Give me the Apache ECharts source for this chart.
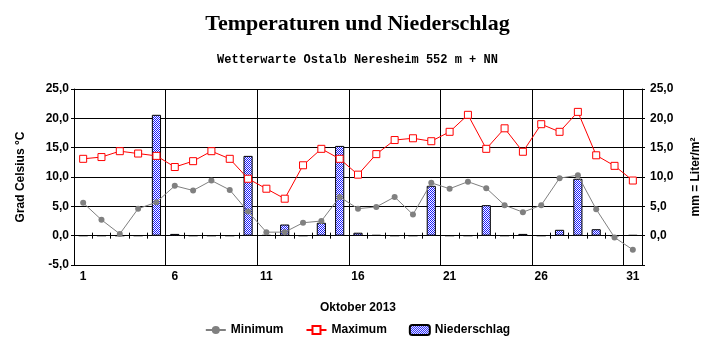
<!DOCTYPE html>
<html>
<head>
<meta charset="utf-8">
<script src="https://cdn.jsdelivr.net/npm/echarts@6/dist/echarts.min.js"></script>
<style>
  html, body { margin: 0; padding: 0; background: #fff; }
  #chart { width: 715px; height: 352px; }
</style>
</head>
<body>
<div id="chart"></div>
<script>
// Tage im Oktober 2013
const days = ['1','2','3','4','5','6','7','8','9','10','11','12','13','14','15','16',
    '17','18','19','20','21','22','23','24','25','26','27','28','29','30','31'];

// Tagesminimum (°C)
const minimum = [5.6, 2.7, 0.3, 4.6, 5.7, 8.5, 7.7, 9.4, 7.8, 4.1, 0.6, 0.6, 2.2, 2.5, 6.6, 4.6,
    4.9, 6.6, 3.6, 9.0, 8.0, 9.2, 8.1, 5.2, 4.0, 5.2, 9.8, 10.3, 4.5, -0.3, -2.4];

// Tagesmaximum (°C)
const maximum = [13.1, 13.4, 14.4, 14.0, 13.6, 11.7, 12.7, 14.4, 13.1, 9.7, 8.0, 6.3, 12.0, 14.8, 13.1, 10.4,
    13.9, 16.3, 16.6, 16.1, 17.7, 20.6, 14.8, 18.3, 14.3, 19.0, 17.7, 21.1, 13.7, 11.9, 9.4];

// Niederschlag (mm)
const niederschlag = [0, 0, 0, 0, 20.6, 0.3, 0, 0, 0, 13.6, 0.1, 1.9, 0, 2.2, 15.3, 0.5,
    0.1, 0, 0, 8.5, 0, 0, 5.2, 0, 0.3, 0, 1.0, 9.7, 1.1, 0, 0.1];

const fmt = v => v.toFixed(1).replace('.', ',');
const labelFont = { fontFamily: 'Liberation Sans', fontWeight: 'bold', fontSize: 12, color: '#000' };

// Punktraster fuer die Balken (blau/weiss)
const pat = document.createElement('canvas');
pat.width = 2; pat.height = 2;
const pctx = pat.getContext('2d');
pctx.fillStyle = '#ffffff';
pctx.fillRect(0, 0, 2, 2);
pctx.fillStyle = '#1a1aff';
pctx.fillRect(0, 0, 1, 1);
pctx.fillRect(1, 1, 1, 1);

const chart = echarts.init(document.getElementById('chart'));

chart.setOption({
    animation: false,
    backgroundColor: '#fff',
    title: [
        {
            text: 'Temperaturen und Niederschlag',
            left: 'center',
            top: 8,
            textStyle: { fontFamily: 'Liberation Serif', fontWeight: 'bold', fontSize: 22, color: '#000' }
        },
        {
            text: 'Wetterwarte Ostalb Neresheim 552 m + NN',
            left: 'center',
            top: 49,
            textStyle: { fontFamily: 'Liberation Mono', fontWeight: 'bold', fontSize: 12, color: '#000' }
        }
    ],
    legend: {
        data: ['Minimum', 'Maximum', 'Niederschlag'],
        left: 'center',
        top: 319,
        itemWidth: 20,
        itemHeight: 10,
        itemGap: 22,
        textStyle: labelFont
    },
    grid: { left: 74, right: 73, top: 89, bottom: 87 },
    xAxis: [
        {
            type: 'category',
            data: days,
            position: 'bottom',
            boundaryGap: true,
            axisLine: { onZero: false, lineStyle: { color: '#000', width: 1 } },
            axisTick: { show: false, interval: 4 },
            axisLabel: Object.assign({ interval: 4, margin: 6 }, labelFont),
            splitLine: { show: true, interval: 4, lineStyle: { color: '#000', width: 1 } },
            name: 'Oktober 2013',
            nameLocation: 'middle',
            nameGap: 37,
            nameTextStyle: labelFont
        },
        {
            type: 'category',
            data: days,
            position: 'bottom',
            boundaryGap: true,
            axisLine: { onZero: true, onZeroAxisIndex: 0, lineStyle: { color: '#000', width: 1 } },
            axisTick: { show: true, interval: 0, length: 3, lineStyle: { color: '#000' } },
            axisLabel: { show: false },
            splitLine: { show: false }
        },
        {
            type: 'category',
            data: days,
            position: 'bottom',
            boundaryGap: true,
            axisLine: { onZero: true, onZeroAxisIndex: 0, lineStyle: { color: '#000', width: 1 } },
            axisTick: { show: true, inside: true, interval: 0, length: 3, lineStyle: { color: '#000' } },
            axisLabel: { show: false },
            splitLine: { show: false }
        }
    ],
    yAxis: [
        {
            type: 'value',
            min: -5,
            max: 25,
            interval: 5,
            position: 'left',
            axisLine: { show: true, lineStyle: { color: '#000' } },
            axisTick: { show: true, length: 3, lineStyle: { color: '#000' } },
            axisLabel: Object.assign({ margin: 5, formatter: fmt }, labelFont),
            splitLine: { show: true, lineStyle: { color: '#000', width: 1 } },
            name: 'Grad Celsius °C',
            nameLocation: 'middle',
            nameRotate: 90,
            nameGap: 47,
            nameTextStyle: labelFont
        },
        {
            type: 'value',
            min: -5,
            max: 25,
            interval: 5,
            position: 'right',
            axisLine: { show: true, lineStyle: { color: '#000' } },
            axisTick: { show: true, length: 3, lineStyle: { color: '#000' } },
            axisLabel: Object.assign({ margin: 8, formatter: v => (v < 0 ? '' : fmt(v)) }, labelFont),
            splitLine: { show: false },
            name: 'mm = Liter/m²',
            nameLocation: 'middle',
            nameRotate: 90,
            nameGap: 48,
            nameTextStyle: labelFont
        }
    ],
    series: [
        {
            name: 'Niederschlag',
            type: 'bar',
            xAxisIndex: 0,
            yAxisIndex: 1,
            data: niederschlag,
            barWidth: '50%',
            itemStyle: {
                color: { image: pat, repeat: 'repeat' },
                borderColor: '#000',
                borderWidth: 1
            }
        },
        {
            name: 'Minimum',
            type: 'line',
            xAxisIndex: 0,
            yAxisIndex: 0,
            data: minimum,
            symbol: 'circle',
            symbolSize: 6,
            lineStyle: { color: '#808080', width: 1 },
            itemStyle: { color: '#808080' }
        },
        {
            name: 'Maximum',
            type: 'line',
            xAxisIndex: 0,
            yAxisIndex: 0,
            data: maximum,
            symbol: 'rect',
            symbolSize: 7,
            lineStyle: { color: '#ff0000', width: 1 },
            itemStyle: { color: '#fff', borderColor: '#ff0000', borderWidth: 1 }
        }
    ]
});
</script>
</body>
</html>
